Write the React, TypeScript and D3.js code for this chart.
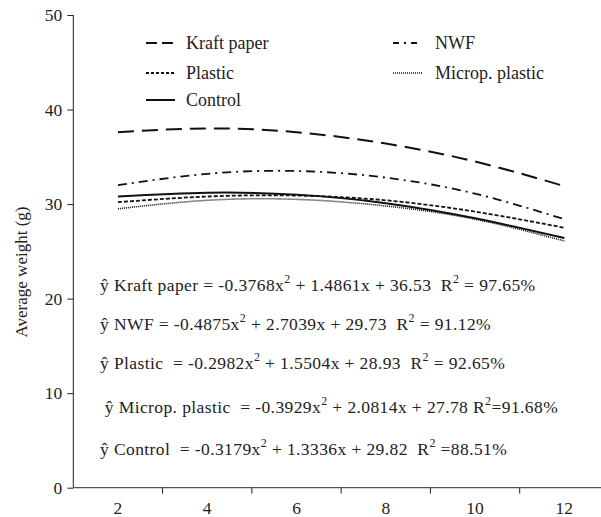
import React, { useEffect, useRef } from 'react';
import * as d3 from 'd3';

const days = [2, 4, 6, 8, 10, 12];
const kraftPaper = [37.6, 38.0, 37.6, 36.4, 34.5, 31.9];
const nwf = [32.0, 33.2, 33.5, 32.8, 31.1, 28.4];
const plastic = [30.2, 30.8, 30.9, 30.4, 29.2, 27.5];
const micropPlastic = [29.5, 30.4, 30.5, 29.8, 28.4, 26.1];
const control = [30.8, 31.2, 31.0, 30.1, 28.5, 26.4];
const yTicks = [0, 10, 20, 30, 40, 50];

const equations = [
  'ŷ Kraft paper = -0.3768x² + 1.4861x + 36.53  R² = 97.65%',
  'ŷ NWF = -0.4875x² + 2.7039x + 29.73  R² = 91.12%',
  'ŷ Plastic  = -0.2982x² + 1.5504x + 28.93  R² = 92.65%',
  ' ŷ Microp. plastic  = -0.3929x² + 2.0814x + 27.78 R²=91.68%',
  'ŷ Control  = -0.3179x² + 1.3336x + 29.82  R² =88.51%',
];

const FONT = "'Liberation Serif', 'Times New Roman', Times, 'DejaVu Serif', 'Noto Serif', serif";

const series = [
  { name: 'Kraft paper', values: kraftPaper, dash: '16,8', legendDash: '11,5', width: 2 },
  { name: 'NWF', values: nwf, dash: '9,5,2,5', legendDash: '6,5,2,5', width: 1.8 },
  { name: 'Plastic', values: plastic, dash: '4,2', legendDash: '3,2', width: 1.8 },
  { name: 'Microp. plastic', values: micropPlastic, dash: '1,1', legendDash: '1,1', width: 1.6 },
  { name: 'Control', values: control, dash: null, legendDash: null, width: 2 },
];

export default function App() {
  const svgRef = useRef<SVGSVGElement>(null);

  useEffect(() => {
    const svg = d3.select(svgRef.current);
    svg.selectAll('*').remove();

    const x = d3.scaleLinear().domain([1, 13]).range([73.3, 609]);
    const y = d3.scaleLinear().domain([0, 50]).range([487.7, 15]);

    // y axis
    const yAxis = svg.append('g').attr('transform', `translate(${x(1)},0)`)
      .call(d3.axisLeft(y).tickValues(yTicks).tickSize(6).tickPadding(5));
    yAxis.attr('font-family', FONT).attr('font-size', 17.5);
    yAxis.select('.domain').attr('d', `M0,${y(50)}V${y(0)}`).attr('stroke', '#222');
    yAxis.selectAll('.tick line').attr('stroke', '#222');
    yAxis.selectAll('.tick text').attr('fill', '#222');

    // x axis: ticks between categories, labels centered
    const xAxis = svg.append('g').attr('transform', `translate(0,${y(0)})`)
      .attr('font-family', FONT).attr('font-size', 17.5);
    xAxis.append('line').attr('x1', x(1)).attr('x2', 601).attr('stroke', '#555').attr('stroke-width', 1.2);
    xAxis.selectAll('line.tk').data([3, 5, 7, 9, 11]).enter().append('line').attr('class', 'tk')
      .attr('x1', d => x(d)).attr('x2', d => x(d)).attr('y1', 0).attr('y2', 6).attr('stroke', '#222');
    xAxis.selectAll('text').data(days).enter().append('text')
      .attr('x', d => x(d)).attr('y', 26).attr('text-anchor', 'middle')
      .attr('fill', '#222').text(d => d);

    // y label
    svg.append('text').attr('transform', `translate(27,272) rotate(-90)`).attr('text-anchor', 'middle')
      .attr('font-family', FONT).attr('font-size', 17).attr('fill', '#222').text('Average weight (g)');

    // curves
    const line = d3.line<number>().x((_, i) => x(days[i])).y(d => y(d)).curve(d3.curveNatural);
    series.forEach(s => {
      svg.append('path').datum(s.values).attr('d', line).attr('fill', 'none')
        .attr('stroke', '#111').attr('stroke-width', s.width)
        .attr('stroke-dasharray', s.dash);
    });

    // legend
    const legendPos = [
      { x: 146, y: 43 }, { x: 393, y: 43 }, { x: 146, y: 73 }, { x: 393, y: 73 }, { x: 146, y: 100 },
    ];
    series.forEach((s, i) => {
      const p = legendPos[i];
      svg.append('line').attr('x1', p.x).attr('x2', p.x + 29).attr('y1', p.y).attr('y2', p.y)
        .attr('stroke', '#111').attr('stroke-width', s.width).attr('stroke-dasharray', s.legendDash);
      svg.append('text').attr('x', p.x + (p.x > 300 ? 42 : 40)).attr('y', p.y).attr('dominant-baseline', 'central')
        .attr('font-family', FONT).attr('font-size', 18).attr('fill', '#222').text(s.name);
    });

    // equations
    const eqY = [285, 324, 363, 407, 449];
    equations.forEach((eq, i) => {
      const t = svg.append('text').attr('x', 100).attr('y', eqY[i]).attr('dominant-baseline', 'central')
        .attr('font-family', FONT).attr('font-size', 17.5).attr('letter-spacing', 0.4)
        .style('white-space', 'pre').attr('fill', '#222');
      eq.split('²').forEach((part, j) => {
        if (j > 0) t.append('tspan').attr('dy', -6).attr('font-size', 12).text('2');
        t.append('tspan').attr('dy', j > 0 ? 6 : 0).text(part);
      });
    });
  }, []);

  return (
    <svg ref={svgRef} width={601} height={517}
      style={{ position: 'absolute', left: 0, top: 0, background: '#fff' }} />
  );
}
